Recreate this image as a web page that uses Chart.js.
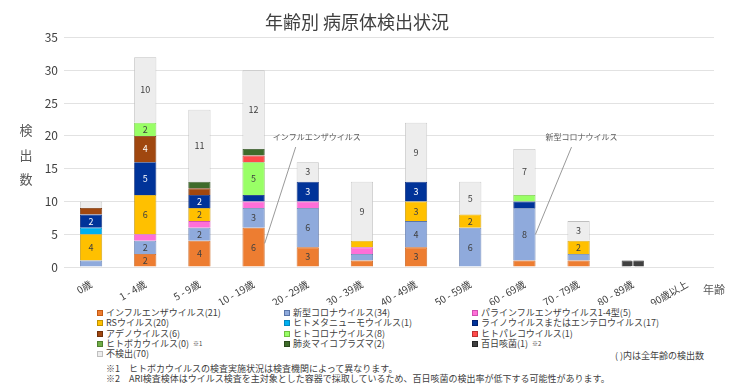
<!DOCTYPE html>
<html>
<head>
<meta charset="utf-8">
<script src="https://cdn.jsdelivr.net/npm/chart.js@4.4.1/dist/chart.umd.min.js"></script>
<style>
  body { margin: 0; background: #fff; }
  #wrap { position: relative; width: 740px; height: 389px; background: #fff; font-family: "Noto Sans CJK JP", "Noto Sans", sans-serif; color: #404040; }
  #chart { position: absolute; left: 0; top: 0; }
  #legend { position: absolute; left: 97px; top: 308px; display: grid; grid-template-columns: 187px 188px 240px; grid-auto-rows: 10.3px; font-size: 9px; line-height: 10px; }
  .item { display: flex; align-items: center; white-space: nowrap; }
  .box { width: 6px; height: 6px; margin-right: 3px; box-sizing: border-box; border: 1px solid; }
  .mark { font-size: 6px; margin-left: 4px; }
  .note { position: absolute; font-size: 9px; white-space: nowrap; }
</style>
</head>
<body>
<div id="wrap">
  <canvas id="chart" width="740" height="305"></canvas>
  <div id="legend"></div>
  <div class="note" style="right: 36px; top: 349px;">( )内は全年齢の検出数</div>
  <div class="note" style="left: 106px; top: 362px;">※1　ヒトボカウイルスの検査実施状況は検査機関によって異なります。</div>
  <div class="note" style="left: 106px; top: 372px;">※2　ARI検査検体はウイルス検査を主対象とした容器で採取しているため、百日咳菌の検出率が低下する可能性があります。</div>
</div>
<script>
const categories = ['0歳', '1 - 4歳', '5 - 9歳', '10 - 19歳', '20 - 29歳', '30 - 39歳', '40 - 49歳', '50 - 59歳', '60 - 69歳', '70 - 79歳', '80 - 89歳', '90歳以上'];

// counts per age group, stacked bottom to top in this order
const influenza   = [0, 2, 4, 6, 3, 1, 3, 0, 1, 1, 0, 0];
const covid       = [1, 2, 2, 3, 6, 1, 4, 6, 8, 1, 0, 0];
const parainfl    = [0, 1, 1, 1, 1, 1, 0, 0, 0, 0, 0, 0];
const rsv         = [4, 6, 2, 0, 0, 1, 3, 2, 0, 2, 0, 0];
const hmpv        = [1, 0, 0, 0, 0, 0, 0, 0, 0, 0, 0, 0];
const rhino       = [2, 5, 2, 1, 3, 0, 3, 0, 1, 0, 0, 0];
const adeno       = [1, 4, 1, 0, 0, 0, 0, 0, 0, 0, 0, 0];
const hcov        = [0, 2, 0, 5, 0, 0, 0, 0, 1, 0, 0, 0];
const parecho     = [0, 0, 0, 1, 0, 0, 0, 0, 0, 0, 0, 0];
const bocavirus   = [0, 0, 0, 0, 0, 0, 0, 0, 0, 0, 0, 0];
const mycoplasma  = [0, 0, 1, 1, 0, 0, 0, 0, 0, 0, 0, 0];
const pertussis   = [0, 0, 0, 0, 0, 0, 0, 0, 0, 0, 1, 0];
const notDetected = [1, 10, 11, 12, 3, 9, 9, 5, 7, 3, 0, 0];

const yMax = 35;
const yStep = 5;

const series = [
  { name: 'インフルエンザウイルス', data: influenza, color: '#ED7D31', border: '#C55A11', text: '#404040' },
  { name: '新型コロナウイルス', data: covid, color: '#8FAADC', border: '#5A75A8', text: '#404040' },
  { name: 'パラインフルエンザウイルス1-4型', data: parainfl, color: '#FF6FD8', border: '#D04FB0', text: '#404040' },
  { name: 'RSウイルス', data: rsv, color: '#FFC000', border: '#BF9000', text: '#404040' },
  { name: 'ヒトメタニューモウイルス', data: hmpv, color: '#00B0F0', border: '#0088C0', text: '#404040' },
  { name: 'ライノウイルスまたはエンテロウイルス', data: rhino, color: '#003399', border: '#002070', text: '#ffffff' },
  { name: 'アデノウイルス', data: adeno, color: '#A0470F', border: '#70300A', text: '#ffffff' },
  { name: 'ヒトコロナウイルス', data: hcov, color: '#99FF66', border: '#70C040', text: '#404040' },
  { name: 'ヒトパレコウイルス', data: parecho, color: '#FF4B4B', border: '#C03030', text: '#ffffff' },
  { name: 'ヒトボカウイルス', data: bocavirus, color: '#70AD47', border: '#4E7F30', text: '#ffffff', mark: '※1' },
  { name: '肺炎マイコプラズマ', data: mycoplasma, color: '#3E6B2A', border: '#2A4A1C', text: '#ffffff' },
  { name: '百日咳菌', data: pertussis, color: '#404040', border: '#262626', text: '#ffffff', mark: '※2', alwaysLabel: true },
  { name: '不検出', data: notDetected, color: '#EDEDED', border: '#BFBFBF', text: '#404040' }
];

const total = arr => arr.reduce((a, b) => a + b, 0);

// callouts pointing at one segment
const callouts = [
  { dataset: 0, index: 3, at: 3.6, text: 'インフルエンザウイルス', textDx: 8, lineDx: 31 },
  { dataset: 1, index: 8, at: 5, text: '新型コロナウイルス', textDx: 10, lineDx: 36 }
];

const FONT = '"Noto Sans CJK JP", "Noto Sans", sans-serif';

const extras = {
  id: 'extras',
  afterDatasetsDraw(chart) {
    const ctx = chart.ctx;
    const y = chart.scales.y;
    ctx.save();
    ctx.textAlign = 'center';
    ctx.textBaseline = 'middle';
    ctx.font = '9px ' + FONT;
    chart.data.datasets.forEach((ds, di) => {
      const meta = chart.getDatasetMeta(di);
      meta.data.forEach((bar, i) => {
        const v = ds.data[i];
        if (!v) return;
        if (v < 2 && !series[di].alwaysLabel) return;
        ctx.fillStyle = series[di].text;
        ctx.fillText(v, bar.x, (bar.y + bar.base) / 2);
      });
    });

    // callouts
    ctx.strokeStyle = '#7F7F7F';
    ctx.lineWidth = 0.8;
    ctx.fillStyle = '#595959';
    ctx.font = '8px ' + FONT;
    ctx.textAlign = 'left';
    callouts.forEach(c => {
      const bar = chart.getDatasetMeta(c.dataset).data[c.index];
      const right = bar.x + bar.width / 2;
      ctx.beginPath();
      ctx.moveTo(right, y.getPixelForValue(c.at));
      ctx.lineTo(right + c.lineDx, y.getPixelForValue(18.3));
      ctx.stroke();
      ctx.fillText(c.text, right + c.textDx, y.getPixelForValue(19.9));
    });

    // y axis title, stacked characters
    ctx.fillStyle = '#595959';
    ctx.font = '13px ' + FONT;
    ctx.textAlign = 'center';
    const mid = (chart.chartArea.top + chart.chartArea.bottom) / 2;
    ['検', '出', '数'].forEach((ch, k) => ctx.fillText(ch, 26, mid - 22 + k * 24.5));

    // x axis title
    ctx.font = '11px ' + FONT;
    ctx.fillText('年齢', 714, 290);
    ctx.restore();
  }
};

new Chart(document.getElementById('chart'), {
  type: 'bar',
  data: {
    labels: categories,
    datasets: series.map(s => ({
      label: s.name,
      data: s.data,
      backgroundColor: s.color,
      borderColor: s.border,
      borderWidth: 0.8,
      barPercentage: 0.41,
      categoryPercentage: 1
    }))
  },
  options: {
    responsive: false,
    animation: false,
    layout: { padding: { left: 0, right: 26, top: 0, bottom: 0 } },
    plugins: {
      legend: { display: false },
      tooltip: { enabled: false },
      title: {
        display: true,
        text: '年齢別 病原体検出状況',
        color: '#404040',
        font: { family: FONT, size: 18, weight: 'normal' },
        padding: { top: 11, bottom: 5 }
      }
    },
    scales: {
      x: {
        stacked: true,
        grid: { display: false },
        border: { display: false },
        ticks: {
          color: '#404040',
          font: { family: FONT, size: 10 },
          minRotation: 30,
          maxRotation: 30,
          padding: 3
        },
        afterFit(scale) { scale.height = 38; }
      },
      y: {
        stacked: true,
        min: 0,
        max: yMax,
        grid: { color: '#E2E2E2', drawTicks: false },
        border: { display: false },
        ticks: {
          stepSize: yStep,
          color: '#404040',
          font: { family: FONT, size: 12 },
          padding: 6
        },
        afterFit(scale) { scale.width = 64; }
      }
    }
  },
  plugins: [extras]
});

// legend, three columns, row-major
const legend = document.getElementById('legend');
series.forEach(s => {
  const item = document.createElement('div');
  item.className = 'item';
  item.innerHTML = '<span class="box" style="background:' + s.color + ';border-color:' + s.border + '"></span>' +
    s.name + '(' + total(s.data) + ')' + (s.mark ? '<span class="mark">' + s.mark + '</span>' : '');
  legend.appendChild(item);
});
</script>
</body>
</html>
